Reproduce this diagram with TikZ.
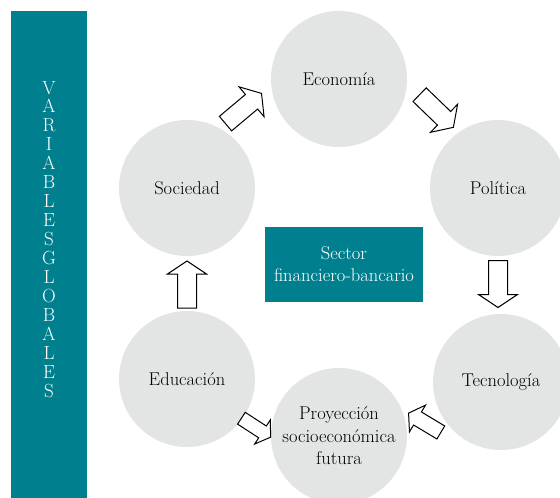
\documentclass[tikz,border=0pt]{standalone}
\usepackage{fontspec}
\definecolor{petrol}{RGB}{0,128,143}
\definecolor{circgray}{RGB}{227,228,228}
\begin{document}
\begin{tikzpicture}[x=1pt,y=-1pt,
  circ/.style={circle,fill=circgray,minimum size=136pt,inner sep=0pt,align=center,
    font=\fontsize{18.5}{22.5}\selectfont},
  barrow/.pic={\draw[line width=1pt,fill=white] (-23.5,-9.5) -- (10.5,-9.5) -- (10.5,-19.5)
    -- (23.5,0) -- (10.5,19.5) -- (10.5,9.5) -- (-23.5,9.5) -- cycle;}]
  \useasboundingbox (0,0) rectangle (560,498);
  \clip (0,0) rectangle (560,498);

  \fill[petrol] (11,11) rectangle (87,498);
  \foreach \l [count=\i] in {V,A,R,I,A,B,L,E,S,G,L,O,B,A,L,E,S}
  \node[anchor=base,inner sep=0pt,text=white,font=\fontsize{19}{19}\selectfont] (v\i)
    at (49,94+18.94*\i-18.94) {\l};

  \node[circ] (eco) at (339,79) {Economía};
  \node[circ] (pol) at (498,188) {Política};
  \node[circ] (tec) at (501,382) {Tecnología};
  \node[circ] (pro) at (339,436) {Proyección\\socioeconómica\\futura};
  \node[circ] (edu) at (187,379) {Educación};
  \node[circ] (soc) at (187,188) {Sociedad};

  \node[fill=petrol,text=white,minimum width=158pt,minimum height=75pt,align=center,
    font=\fontsize{18.5}{22}\selectfont] (sec) at (344,264.5) {Sector\\financiero-bancario};

  \pic[rotate=40] at (243.5,108.5) {barrow};
  \pic[rotate=-44] at (436.5,111) {barrow};
  \pic[rotate=-90] at (498,284) {barrow};
  \pic[rotate=149,scale=0.8] at (424.7,422.8) {barrow};
  \pic[rotate=-33,scale=0.74] at (256,427.7) {barrow};
  \pic[rotate=90] at (187,284.5) {barrow};
\end{tikzpicture}
\end{document}
